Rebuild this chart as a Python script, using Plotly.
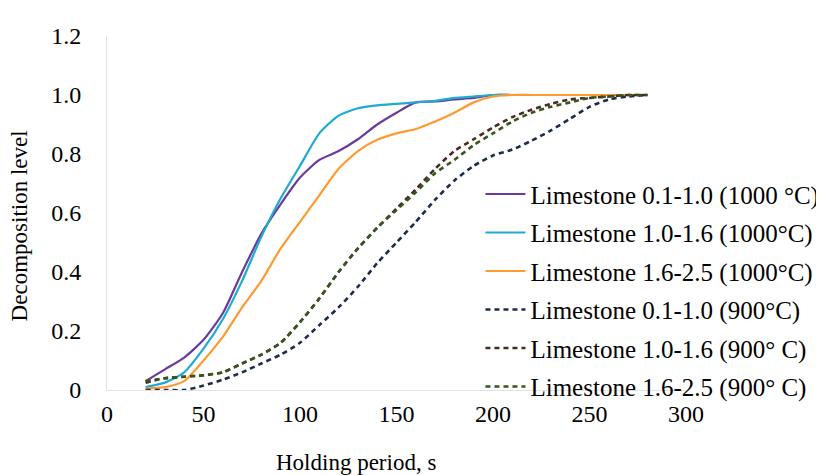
import plotly.graph_objects as go

x_vals = [20, 30, 40, 50, 60, 70, 80, 90, 100, 110, 120, 130, 140, 150, 160,
          170, 180, 190, 200, 210, 220, 230, 240, 250, 260, 270, 280]

ls_01_10_1000 = [0.03, 0.07, 0.11, 0.17, 0.26, 0.40, 0.53, 0.63, 0.72, 0.78, 0.81, 0.85, 0.90, 0.94, 0.975,
                 0.978, 0.985, 0.99, 1.0, 1.0, 1.0, 1.0, 1.0, 1.0, 1.0, 1.0, 1.0]
ls_10_16_1000 = [0.01, 0.025, 0.06, 0.14, 0.24, 0.37, 0.52, 0.65, 0.76, 0.87, 0.93, 0.955, 0.965, 0.97, 0.975,
                 0.98, 0.99, 0.995, 1.0, 1.0, 1.0, 1.0, 1.0, 1.0, 1.0, 1.0, 1.0]
ls_16_25_1000 = [0.005, 0.01, 0.03, 0.10, 0.18, 0.28, 0.37, 0.48, 0.57, 0.66, 0.75, 0.81, 0.848, 0.87, 0.885,
                 0.91, 0.94, 0.975, 0.995, 1.0, 1.0, 1.0, 1.0, 1.0, 1.0, 1.0, 1.0]
ls_01_10_900 = [0.0, 0.0, 0.0, 0.015, 0.035, 0.06, 0.09, 0.12, 0.16, 0.22, 0.28, 0.35, 0.43, 0.50, 0.57,
                0.645, 0.71, 0.76, 0.795, 0.815, 0.845, 0.88, 0.92, 0.96, 0.985, 0.995, 1.0]
ls_10_16_900 = [0.025, 0.04, 0.045, 0.05, 0.06, 0.09, 0.12, 0.16, 0.23, 0.31, 0.40, 0.48, 0.55, 0.615, 0.68,
                0.75, 0.81, 0.85, 0.89, 0.925, 0.95, 0.97, 0.985, 0.99, 0.995, 1.0, 1.0]
ls_16_25_900 = [0.03, 0.04, 0.045, 0.05, 0.06, 0.09, 0.12, 0.16, 0.23, 0.31, 0.40, 0.48, 0.55, 0.61, 0.67,
                0.735, 0.78, 0.83, 0.87, 0.91, 0.94, 0.96, 0.975, 0.99, 0.995, 1.0, 1.0]

x_ticks = [0, 50, 100, 150, 200, 250, 300]
y_ticks = [0, 0.2, 0.4, 0.6, 0.8, 1.0, 1.2]
y_tick_labels = ["0", "0.2", "0.4", "0.6", "0.8", "1.0", "1.2"]

names = [
    "Limestone 0.1-1.0 (1000 °C)",
    "Limestone 1.0-1.6 (1000°C)",
    "Limestone 1.6-2.5 (1000°C)",
    "Limestone 0.1-1.0 (900°C)",
    "Limestone 1.0-1.6 (900° C)",
    "Limestone 1.6-2.5 (900° C)",
]
series = [ls_01_10_1000, ls_10_16_1000, ls_16_25_1000, ls_01_10_900, ls_10_16_900, ls_16_25_900]
colors = ["#6a3a9c", "#1eaad2", "#ff9a30", "#1c2a4c", "#4a2a22", "#36551f"]
dashes = ["solid", "solid", "solid", "5px,4px", "5px,4px", "5px,4px"]
widths = [2.2, 2.2, 2.2, 2.6, 2.6, 2.6]

FONT = "Liberation Serif"

fig = go.Figure()
for i, (nm, ys, c, d, w) in enumerate(zip(names, series, colors, dashes, widths)):
    fig.add_trace(go.Scatter(
        x=x_vals, y=ys, name=nm, mode="lines",
        line=dict(color=c, width=w, dash=d, shape="spline", smoothing=0.6),
        legendgroup=f"g{i}",
    ))

fig.update_layout(
    template="none",
    width=816, height=467,
    margin=dict(l=99, r=138, t=28, b=85, pad=0, autoexpand=False),
    paper_bgcolor="white", plot_bgcolor="white",
    font=dict(family=FONT, size=24, color="black"),
    showlegend=True,
    legend=dict(
        x=0.645, y=0.618, xanchor="left", yanchor="top",
        font=dict(family=FONT, size=25, color="black"),
        bgcolor="rgba(0,0,0,0)", borderwidth=0, itemwidth=40, tracegroupgap=3,
    ),
    annotations=[
        dict(text="Decomposition level", xref="paper", yref="paper", x=-0.152, y=0.465,
             xanchor="center", yanchor="middle", textangle=-90, showarrow=False,
             font=dict(family=FONT, size=23, color="black")),
        dict(text="Holding period, s", xref="paper", yref="paper", x=0.43, y=-0.165,
             xanchor="center", yanchor="top", showarrow=False,
             font=dict(family=FONT, size=23, color="black")),
    ],
)
fig.update_xaxes(
    range=[0, 300], tickmode="array", tickvals=x_ticks,
    showgrid=False, zeroline=False, showline=True, linecolor="#e3e3e3", linewidth=1,
    ticks="", ticklabelstandoff=2,
    tickfont=dict(family=FONT, size=24, color="black"),
)
fig.update_yaxes(
    range=[0, 1.2], tickmode="array", tickvals=y_ticks, ticktext=y_tick_labels,
    showgrid=False, zeroline=False, showline=True, linecolor="#e3e3e3", linewidth=1,
    ticks="", ticklabelstandoff=20,
    tickfont=dict(family=FONT, size=24, color="black"),
)

fig.write_html("out.html")
